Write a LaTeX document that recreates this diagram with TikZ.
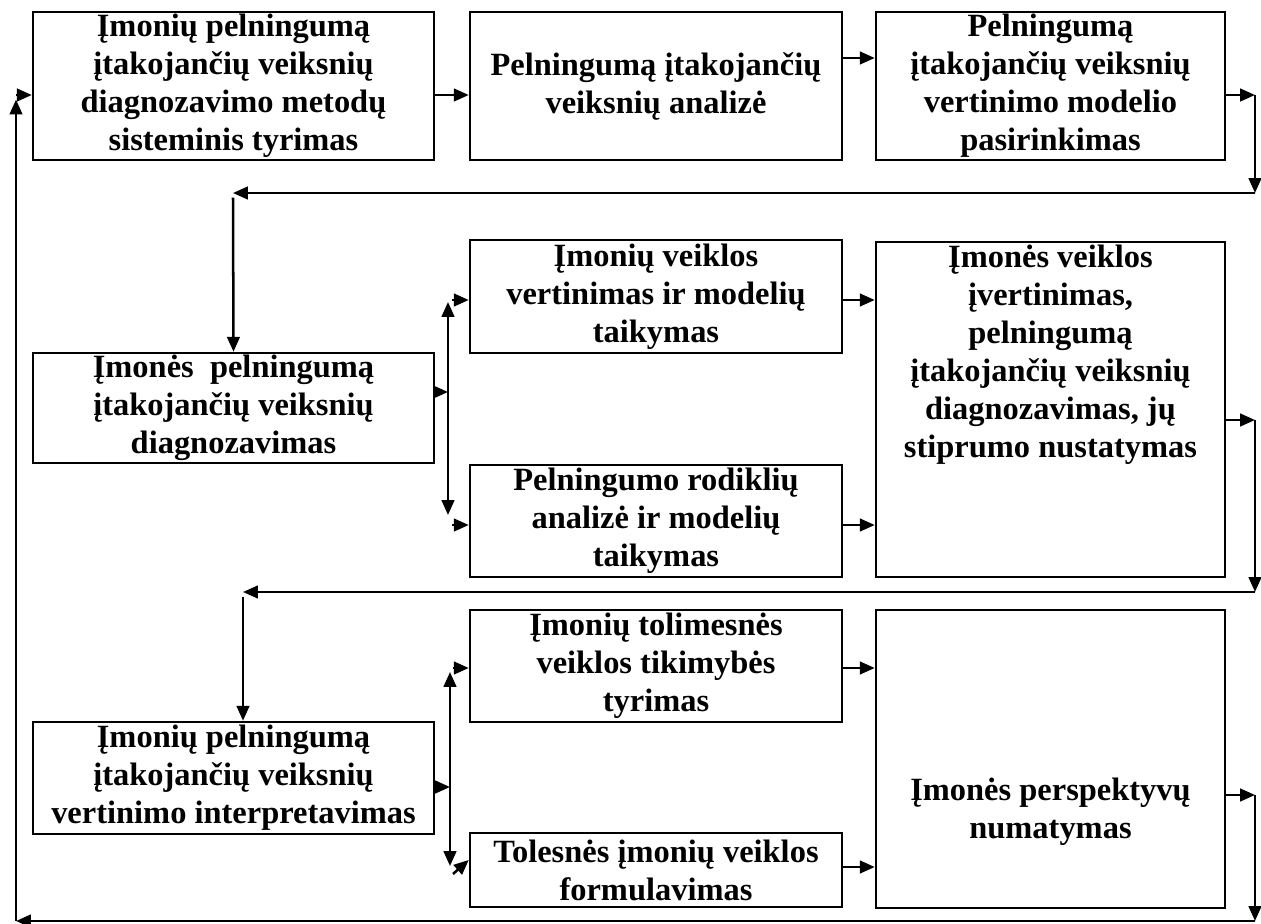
\documentclass[tikz,border=0pt]{standalone}
\usepackage{fontspec}
\setmainfont{Liberation Serif}
\usetikzlibrary{arrows.meta}

\begin{document}
\begin{tikzpicture}[
      x = 0.4375pt,
      y = -0.4375pt,
      txt/.style = {align=center, inner sep=0pt,
        font=\fontsize{14.2}{16.6}\selectfont\bfseries},
      box/.style = {txt, draw, line width=1.1pt},
      arr/.style = {line width=1.1pt, -{Triangle[length=6.5pt,width=5.5pt]}},
      darr/.style = {line width=1.1pt,
        {Triangle[length=6.5pt,width=5.5pt]}-{Triangle[length=6.5pt,width=5.5pt]}},
  ]

  \useasboundingbox (0,0) rectangle (1261,924);

  % first row
  \node[box, minimum width=175.4pt, minimum height=64.75pt] (A) at (233.5,86)
    {Įmonių pelningumą\\įtakojančių veiksnių\\diagnozavimo metodų\\sisteminis tyrimas};
  \node[box, minimum width=162.75pt, minimum height=64.75pt] (B) at (656,86)
    {Pelningumą įtakojančių\\veiksnių analizė};
  \node[box, minimum width=152.7pt, minimum height=64.75pt] (C) at (1050.5,86)
    {Pelningumą\\įtakojančių veiksnių\\vertinimo modelio\\pasirinkimas};

  % second row
  \node[box, minimum width=175.4pt, minimum height=48.1pt] (D) at (233.5,408)
    {Įmonės~ pelningumą\\įtakojančių veiksnių\\diagnozavimas};
  \node[box, minimum width=162.75pt, minimum height=49.4pt] (E) at (656,296.5)
    {Įmonių veiklos\\vertinimas ir modelių\\taikymas};
  \node[box, minimum width=162.75pt, minimum height=49pt] (F) at (656,521)
    {Pelningumo rodiklių\\analizė ir modelių\\taikymas};
  \node[box, minimum width=152.7pt, minimum height=146.6pt] (G) at (1050.5,409.5) {};
  \node[txt] (Gt) at (1050.5,355)
    {Įmonės veiklos\\įvertinimas,\\pelningumą\\įtakojančių veiksnių\\diagnozavimas, jų\\stiprumo nustatymas};

  % third row
  \node[box, minimum width=175.4pt, minimum height=49pt] (H) at (233.5,778)
    {Įmonių pelningumą\\įtakojančių veiksnių\\vertinimo interpretavimas};
  \node[box, minimum width=162.75pt, minimum height=49pt] (I) at (656,666)
    {Įmonių tolimesnės\\veiklos tikimybės\\tyrimas};
  \node[box, minimum width=162.75pt, minimum height=32.4pt] (J) at (656,870)
    {Tolesnės įmonių veiklos\\formulavimas};
  \node[box, minimum width=152.7pt, minimum height=130.4pt] (K) at (1050.5,759) {};
  \node[txt] (Kt) at (1050.5,812) {Įmonės perspektyvų\\numatymas};

  % turning points
  \coordinate (r1) at (1255,95);
  \coordinate (r2) at (1255,193);
  \coordinate (l1) at (233,193);
  \coordinate (r3) at (1255,420);
  \coordinate (r4) at (1255,592);
  \coordinate (l2) at (243,592);
  \coordinate (r5) at (1255,795);
  \coordinate (r6) at (1255,921);
  \coordinate (l3) at (16,921);
  \coordinate (l4) at (16,95);
  \coordinate (v1) at (448,392);
  \coordinate (v2) at (450,787);

  % first row arrows
  \draw[arr] (A.east |- 0,95) -- (B.west |- 0,95);
  \draw[arr] (B.east |- 0,58) -- (C.west |- 0,58);
  \draw[arr] (C.east |- r1) -- (r1);
  \draw[arr] (r1) -- (r2);
  \draw[arr] (r2) -- (l1);
  \draw[arr] ([yshift=-2pt]l1) -- (D.north);

  % second row arrows
  \draw[arr] (D.east |- v1) -- (v1);
  \draw[darr] (448,302) -- (448,515);
  \draw[arr] (452,300) -- (E.west |- 0,300);
  \draw[arr] (452,525) -- (F.west |- 0,525);
  \draw[arr] (E.east |- 0,300) -- (G.west |- 0,300);
  \draw[arr] (F.east |- 0,525) -- (G.west |- 0,525);
  \draw[arr] (G.east |- r3) -- (r3);
  \draw[arr] (r3) -- (r4);
  \draw[arr] (r4) -- (l2);
  \draw[arr] ([yshift=-2pt]l2) -- (l2 |- H.north);

  % third row arrows
  \draw[arr] (H.east |- v2) -- (v2);
  \draw[darr] (450,672) -- (450,866);
  \draw[arr] (453,668) -- (I.west |- 0,668);
  \draw[arr] (453,874) -- (J.west |- 0,860);
  \draw[arr] (I.east |- 0,668) -- (K.west |- 0,668);
  \draw[arr] (J.east |- 0,867) -- (K.west |- 0,867);
  \draw[arr] (K.east |- r5) -- (r5);
  \draw[arr] (r5) -- (r6);
  \draw[arr] (r6) -- (l3);
  \draw[arr] (l3) -- ([yshift=-2pt]l4);
  \draw[arr] (l4) -- (A.west |- l4);

\end{tikzpicture}
\end{document}
